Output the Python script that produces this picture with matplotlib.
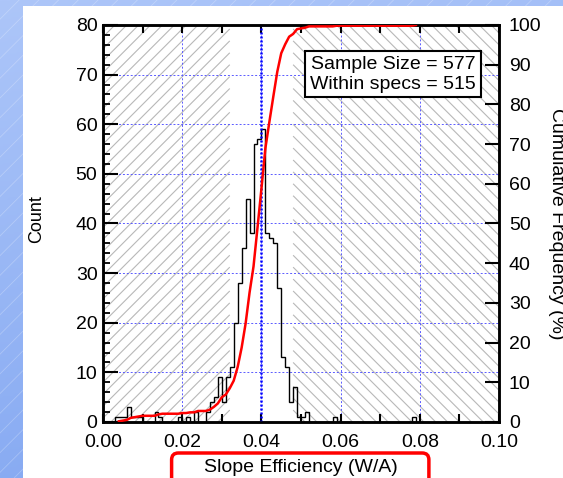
import numpy as np
import matplotlib.pyplot as plt
from matplotlib.patches import Rectangle, FancyBboxPatch
from matplotlib.collections import LineCollection
from matplotlib.colors import LinearSegmentedColormap
from matplotlib.ticker import MultipleLocator, FormatStrFormatter

plt.rcParams['font.family'] = ['Liberation Sans', 'DejaVu Sans']

# histogram of slope efficiency, 0.001 W/A bins starting at 0.003
bin_width = 0.001
first_bin = 0.003
counts = [1, 1, 1, 3, 1, 1, 1, 0, 0, 0,        # 0.003 - 0.012
          2, 1, 0, 0, 0, 0, 1, 0, 1, 0,        # 0.013 - 0.022
          2, 0, 0, 2, 4, 5, 9, 4, 9, 11,       # 0.023 - 0.032
          20, 28, 35, 45, 38, 56, 57, 59, 38, 37,  # 0.033 - 0.042
          36, 27, 13, 11, 4, 7, 1, 1, 2, 0,    # 0.043 - 0.052
          0, 0, 0, 0, 0, 1, 0, 0, 0, 0,        # 0.053 - 0.062
          0, 0, 0, 0, 0, 0, 0, 0, 0, 0,        # 0.063 - 0.072
          0, 0, 0, 0, 0, 1]                    # 0.073 - 0.078

spec_low = 0.032
spec_high = 0.048
target = 0.04
sample_size = 577
within_specs = 515

edges = first_bin + bin_width * np.arange(len(counts) + 1)
cum_pct = np.cumsum(counts) / sum(counts) * 100

fig = plt.figure(figsize=(5.63, 4.78), dpi=100)

# blue slide background with a white panel
bg = fig.add_axes([0, 0, 1, 1], zorder=-10)
yy, xx = np.mgrid[0:1:200j, 0:1:200j]
cmap = LinearSegmentedColormap.from_list('slide', ['#adc6f9', '#80a5f1'])
bg.imshow(yy * 0.8 + xx * 0.2, cmap=cmap, extent=[0, 1, 0, 1], aspect='auto', origin='upper')
segs = [[(c, 0), (c + 1, 563 / 478)] for c in np.arange(-1.2, 1.0, 0.035)]
bg.add_collection(LineCollection(segs, colors='white', linewidths=0.6, alpha=0.25))
bg.add_patch(Rectangle((23 / 563, 0), 1, (478 - 6) / 478, facecolor='white', edgecolor='none'))
bg.set_xlim(0, 1)
bg.set_ylim(0, 1)
bg.axis('off')

ax = fig.add_axes([0.183, 0.1172, 0.7034, 0.8305])
ax.set_xlim(0, 0.1)
ax.set_ylim(0, 80)


def hatch_segments(x0, x1, rising, step=0.03):
    # 45 degree lines in axes fraction, cut to the band x0..x1
    segs = []
    for c in np.arange(-1.0, 1.0, step):
        lo, hi = max(x0, c), min(x1, 1 + c)
        if lo >= hi:
            continue
        if rising:   # y = x - c
            segs.append([(lo, lo - c), (hi, hi - c)])
        else:        # y = c + 1 - x
            segs.append([(lo, 1 + c - lo), (hi, 1 + c - hi)])
    return segs


ax.add_collection(LineCollection(hatch_segments(0, spec_low / 0.1, True), colors='#b8b8b8',
                                 linewidths=0.8, transform=ax.transAxes, zorder=1))
ax.add_collection(LineCollection(hatch_segments(spec_high / 0.1, 1, False), colors='#b8b8b8',
                                 linewidths=0.8, transform=ax.transAxes, zorder=1))

ax.grid(True, which='major', color='#5a5aff', ls=(0, (2, 2)), lw=0.7, zorder=2)
ax.set_axisbelow(False)

ax.stairs(counts, edges, color='black', lw=1, zorder=3)
ax.axvline(target, color='#0000ff', ls=(0, (0.8, 0.8)), lw=1.8, zorder=3.5)

ax.xaxis.set_major_locator(MultipleLocator(0.02))
ax.xaxis.set_minor_locator(MultipleLocator(0.01))
ax.xaxis.set_major_formatter(FormatStrFormatter('%.2f'))
ax.yaxis.set_major_locator(MultipleLocator(10))
ax.yaxis.set_minor_locator(MultipleLocator(2))
ax.tick_params(axis='x', which='both', direction='in', top=True, length=6, width=1.5,
               labelsize=14, pad=9)
ax.tick_params(axis='y', which='major', direction='in', right=False, length=11, width=1.5,
               labelsize=14, pad=4)
ax.tick_params(axis='y', which='minor', direction='in', right=False, length=4.7, width=1.3)
for s in ax.spines.values():
    s.set_linewidth(1.8)

ax.text(0.942, 0.922, f'Sample Size = {sample_size}\nWithin specs = {within_specs}',
        transform=ax.transAxes, ha='right', va='top', fontsize=14, linespacing=1.2,
        zorder=6, bbox=dict(boxstyle='square,pad=0.25', fc='white', ec='black', lw=1.5))

ax2 = ax.twinx()
ax2.set_ylim(0, 100)
ax2.plot(edges[1:], cum_pct, color='red', lw=1.8, zorder=4)
ax2.yaxis.set_major_locator(MultipleLocator(10))
ax2.tick_params(axis='y', direction='in', length=10, width=1.5, labelsize=14, pad=7)
for s in ax2.spines.values():
    s.set_linewidth(1.8)

fig.text(37 / 563, 1 - 219 / 478, 'Count', rotation=90, ha='center', va='center', fontsize=13)
fig.text(557 / 563, 1 - 224 / 478, 'Cumulative Frequency (%)', rotation=270,
         ha='center', va='center', fontsize=14)
fig.text(301 / 563, 1 - 467 / 478, 'Slope Efficiency (W/A)', ha='center', va='center', fontsize=14)
fig.patches.append(FancyBboxPatch((0.3048, -0.05), 0.457, 0.1023,
                                  boxstyle='round,pad=0,rounding_size=0.012',
                                  mutation_aspect=563 / 478, transform=fig.transFigure,
                                  facecolor='none', edgecolor='red', lw=2.5, figure=fig))

fig.savefig('out.png', dpi=100)
